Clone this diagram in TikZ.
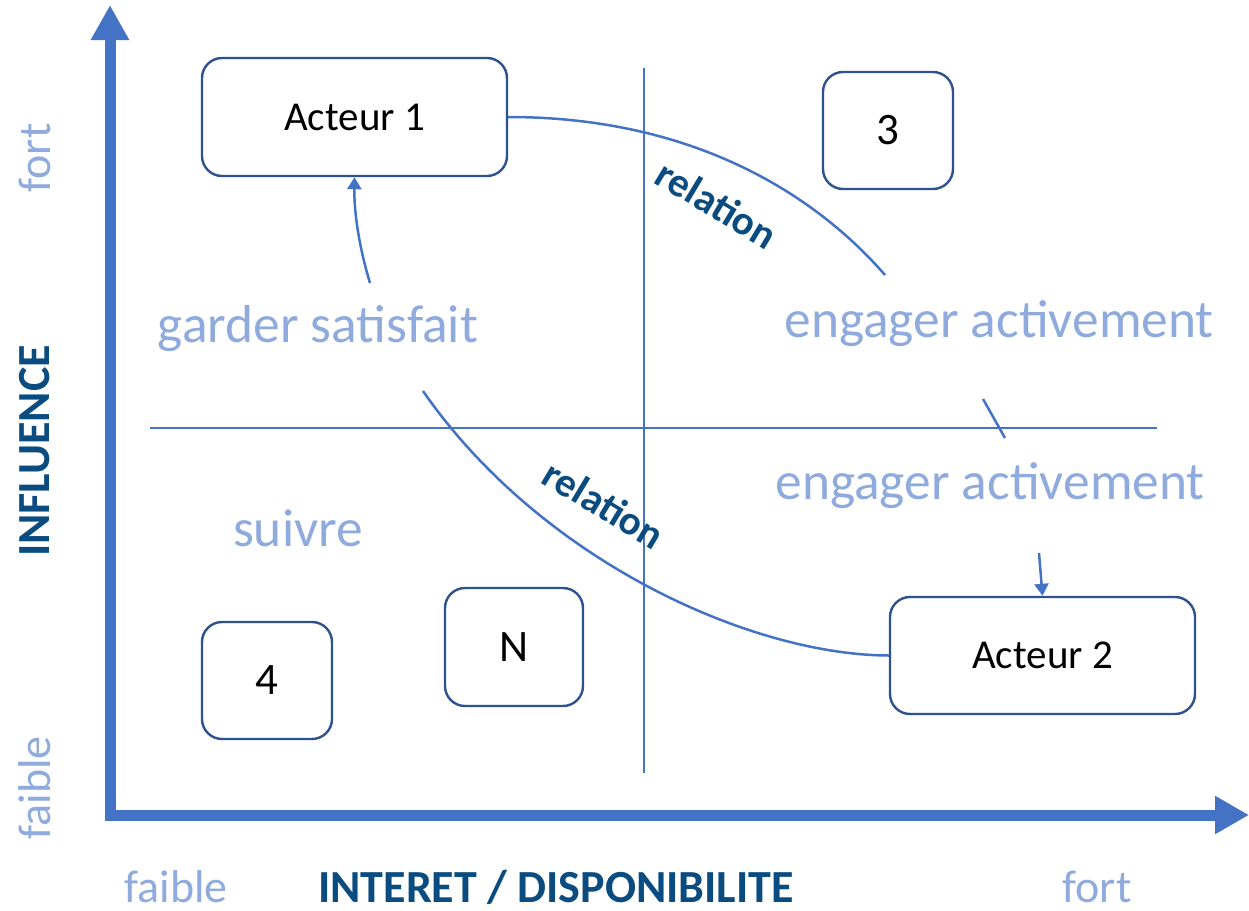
\documentclass[tikz,border=0pt]{standalone}
\usepackage{fontspec}
\setmainfont{Carlito}
\usetikzlibrary{arrows.meta}
\definecolor{axisblue}{HTML}{4472C4}
\definecolor{boxblue}{HTML}{2F528F}
\definecolor{lightblue}{HTML}{8FAADC}
\definecolor{darkblue}{RGB}{10,76,128}
\tikzset{
  axisline/.style={draw=axisblue, line width=5.5pt, line join=miter},
  quad/.style={draw=axisblue, line width=0.75pt},
  conn/.style={draw=axisblue, line width=1.25pt},
  actor/.style={draw=boxblue, line width=1.2pt, rounded corners=10pt, fill=white, inner sep=0pt, font=\fontsize{20.5}{24}\selectfont},
  bigtext/.style={font=\fontsize{22.5}{26}\selectfont},
  zone/.style={text=lightblue, inner sep=0pt, anchor=base, font=\fontsize{26.7}{31}\selectfont},
  scaletext/.style={text=lightblue, inner sep=0pt, font=\fontsize{23}{27}\selectfont},
  axtitle/.style={text=darkblue, inner sep=0pt, font=\bfseries\fontsize{23}{27}\selectfont},
  rel/.style={text=darkblue, inner sep=0pt, font=\bfseries\fontsize{20.5}{24}\selectfont},
  small tip/.style={-{Triangle[length=6pt,width=7pt]}}
}
\begin{document}
\begin{tikzpicture}[x=0.5pt,y=-0.5pt]
\useasboundingbox (0,0) rectangle (1249,911);
% quadrant lines
\coordinate (vtop) at (644,68);
\coordinate (vbot) at (644,773);
\coordinate (hl) at (150,428);
\coordinate (hr) at (1157,428);
\draw[quad] (vtop) -- (vbot);
\draw[quad] (hl) -- (hr);
% axes
\coordinate (ytip) at (110,5);
\coordinate (origin) at (110,815);
\coordinate (xtip) at (1249,815);
\draw[axisline, {Triangle[length=17.5pt,width=18pt]}-{Triangle[length=17pt,width=18pt]}] (ytip) -- (origin) -- (xtip);
% boxes
\node[actor, minimum width=152.5pt, minimum height=59pt] (a1) at (354.5,117) {Acteur 1};
\node[actor, bigtext, minimum width=65pt, minimum height=58.5pt] (b3) at (888,130.5) {3};
\node[actor, bigtext, minimum width=65pt, minimum height=58.5pt] (b4) at (267,680.5) {4};
\node[actor, bigtext, minimum width=69pt, minimum height=59pt] (bn) at (514,647) {N};
\node[actor, minimum width=152.5pt, minimum height=58.5pt] (a2) at (1042.5,655.5) {Acteur 2};
% zone labels
\node[zone] (z1) at (318,342) {garder satisfait};
\node[zone] (z2) at (999,337) {engager activement};
\node[zone] (z3) at (990,499) {engager activement};
\node[zone] (z4) at (298,546) {suivre};
% axis labels
\node[scaletext, rotate=90] (yfort) at (35,158) {fort};
\node[scaletext, rotate=90] (yfaible) at (35,788) {faible};
\node[axtitle, rotate=90] (ytitle) at (35,451) {INFLUENCE};
\node[scaletext, anchor=base] (xfaible) at (176,902) {faible};
\node[axtitle, anchor=base] (xtitle) at (556,902) {INTERET / DISPONIBILITE};
\node[scaletext, anchor=base] (xfort) at (1097,902) {fort};
% relations
\coordinate (r1end) at (885,275);
\draw[conn] (a1.east) .. controls (700,117) and (820,200) .. (r1end);
\coordinate (r2start) at (423,391);
\draw[conn] (r2start) .. controls (540,560) and (750,655) .. (a2.west);
\node[rel, rotate=-31] (rel1) at (717,204) {relation};
\node[rel, rotate=-31] (rel2) at (604,504) {relation};
% small arrows
\coordinate (s1) at (370,283);
\draw[conn, small tip] (s1) .. controls (360,250) and (354,215) .. (a1.south);
\coordinate (t1) at (983,399);
\coordinate (t2) at (1005,438);
\draw[conn] (t1) -- (t2);
\coordinate (s2) at (1039,553);
\draw[conn, small tip] (s2) -- (a2.north);
\end{tikzpicture}
\end{document}
